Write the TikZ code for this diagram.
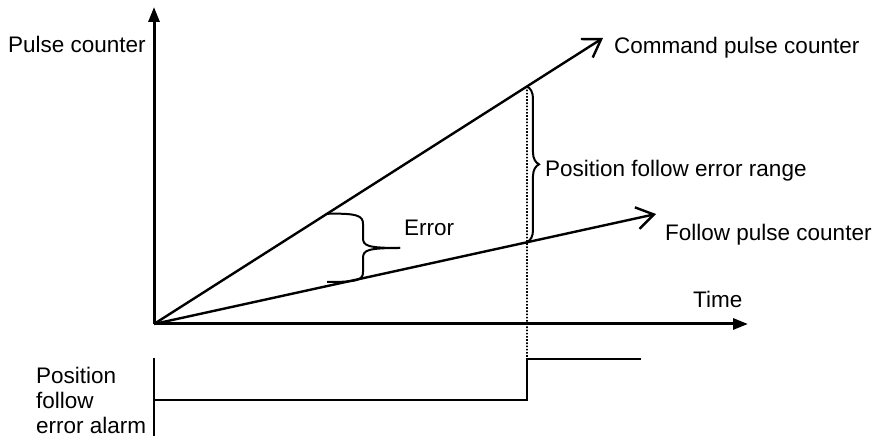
\documentclass[tikz,border=0pt]{standalone}
\usepackage{fontspec}
\setmainfont{Liberation Sans}
\usetikzlibrary{arrows.meta,positioning,calc,decorations.pathreplacing}

\begin{document}
\begin{tikzpicture}[x=1pt, y=1pt,
  axis/.style={draw, line width=3pt, -{Triangle[length=15pt,width=11pt]}},
  ramp/.style={draw, line width=2.4pt, -{Straight Barb[length=17pt,width=22pt]}},
  brace/.style={draw, line width=2pt},
  signal/.style={draw, line width=2pt},
  txt/.style={anchor=base west, inner sep=0pt, font=\fontsize{22.5}{25}\selectfont}]

  \useasboundingbox (0,0) rectangle (875,436);

  \coordinate (O) at (154,112);
  \coordinate (ytip) at (154,429);
  \coordinate (xtip) at (748,112);
  \coordinate (cmdtip) at (603,398);
  \coordinate (foltip) at (656,222);

  \path [axis] (O) -- (ytip);
  \path [axis] (O) -- (xtip);
  \path [ramp] (O) -- (cmdtip);
  \path [ramp] (O) -- (foltip);

  % points where the counters are read
  \coordinate (cmdhit) at ($(O)!0.8307!(cmdtip)$);
  \coordinate (folhit) at ($(O)!0.7430!(foltip)$);
  \coordinate (errtop) at ($(O)!0.3853!(cmdtip)$);
  \coordinate (errbot) at (327,154);
  \coordinate (errtip) at (400,188);

  % alarm output
  \coordinate (alarmtop) at (154,78);
  \coordinate (alarmbot) at (154,0);
  \coordinate (low) at (154,36);
  \coordinate (stepdown) at (folhit |- low);
  \coordinate (stepup) at ($(stepdown)+(0,41)$);
  \coordinate (alarmend) at (641,77);

  \draw [dash pattern=on 1.6pt off 1.6pt, line width=1.6pt] (cmdhit) -- (stepup);

  \path [brace] (errtop) .. controls (358,223) and (363,220) .. (363,212) -- (363,198)
    .. controls (363,190) and (368,188) .. (errtip);
  \path [brace] (errtip) .. controls (368,188) and (363,186) .. (363,178) -- (363,164)
    .. controls (363,156) and (358,154) .. (errbot);
  \path [brace, decorate, decoration={brace, amplitude=12pt}] (cmdhit) -- (folhit);

  \path [signal] (alarmtop) -- (alarmbot);
  \path [signal] (low) -- (stepdown) -- (stepup) -- (alarmend);

  \node [txt] (ylabel) at (8,383) {Pulse counter};
  \node [txt] (cmdlabel) at (614,382) {Command pulse counter};
  \node [txt] (rangelabel) at (545,259) {Position follow error range};
  \node [txt] (follabel) at (665,195) {Follow pulse counter};
  \node [txt] (errlabel) at (404,200) {Error};
  \node [txt] (timelabel) at (693,128) {Time};
  \node [txt, anchor=north west, align=left] (alarmlabel) at (36,69.5) {Position\\follow\\error alarm};
\end{tikzpicture}
\end{document}
